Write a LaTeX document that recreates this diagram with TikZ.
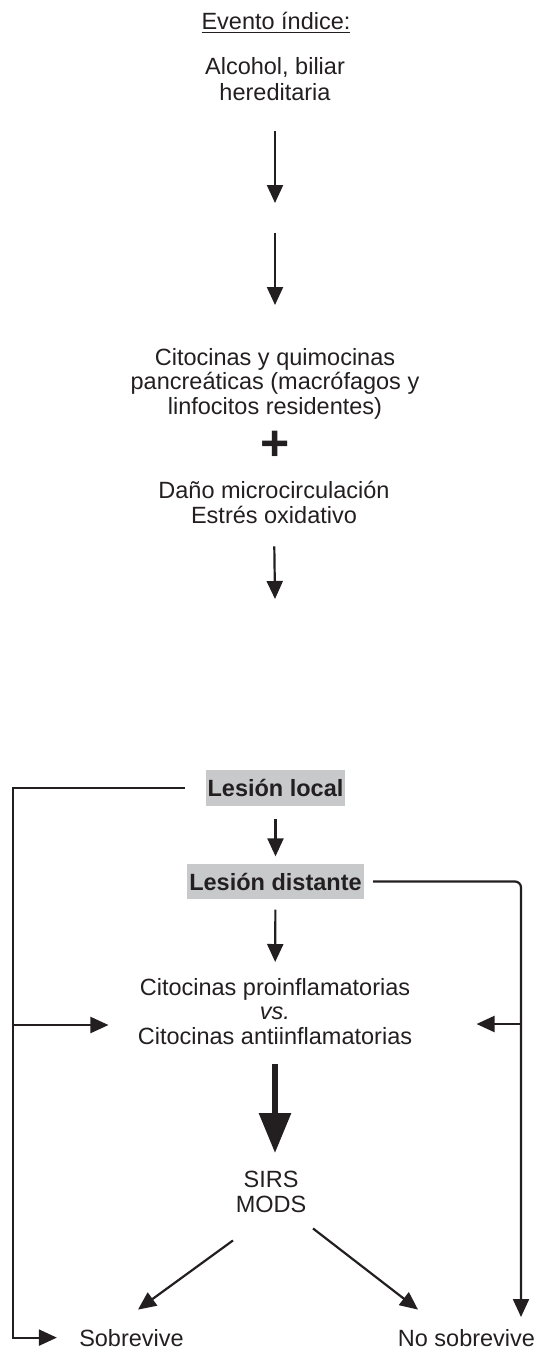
\documentclass[tikz,border=0pt]{standalone}
\usepackage{fontspec}
\setmainfont{Liberation Sans}
\usepackage{tikz}
\usetikzlibrary{arrows.meta,positioning,calc}
\definecolor{lesiongray}{HTML}{C8C9CB}
\definecolor{inkblack}{HTML}{231F20}

\begin{document}
\begin{tikzpicture}[x=0.5pt,y=-0.5pt,
  txt/.style={inner sep=0pt,align=center,text=inkblack,
              font=\fontsize{11.75}{12.25}\selectfont},
  lesion/.style={fill=lesiongray,inner xsep=1pt,inner ysep=0pt,
              minimum height=17.75pt,text=inkblack,
              font=\fontsize{11.75}{12.25}\selectfont\bfseries},
  arr/.style={-{Triangle[length=9pt,width=8pt]},line width=1.1pt,inkblack},
  big/.style={-{Triangle[length=20pt,width=15.5pt]},line width=3pt,inkblack}]
  \useasboundingbox (0,0) rectangle (538,1350);

  % upper part
  \node[txt,anchor=base] (evento) at (276,29) {\underline{Evento índice:}};
  \node[txt,anchor=north,font=\fontsize{11.75}{13}\selectfont] (causa) at (275,57)
       {Alcohol, biliar\\hereditaria};
  \coordinate (gap1) at (275,203);
  \coordinate (gap2) at (275,233);
  \node[txt,anchor=north] (citoq) at (275,348)
       {Citocinas y quimocinas\\pancreáticas (macrófagos y\\linfocitos residentes)};
  \node[txt,font=\fontsize{25}{25}\selectfont\bfseries] (mas) at (275,446) {+};
  \node[txt,anchor=north] (dano) at (274,481)
       {Daño microcirculación\\Estrés oxidativo};
  \coordinate (gap3) at (275,599);
  \draw[arr,shorten <=15pt] (causa.south) -- (gap1);
  \draw[arr,shorten >=21.5pt] (gap2) -- (citoq.north);
  \draw[arr,shorten <=11.25pt] (dano.south) -- (gap3);

  % lower part
  \node[lesion] (local) at (275.5,788) {Lesión local};
  \node[lesion] (distante) at (275.5,881.5) {Lesión distante};
  \node[txt,anchor=north] (cito) at (275,978)
       {Citocinas proinflamatorias\\\textit{vs.}\\Citocinas antiinflamatorias};
  \node[txt,anchor=north] (sirs) at (271,1171) {SIRS\\MODS};
  \node[txt,anchor=base] (sobre) at (131.5,1346) {Sobrevive};
  \node[txt,anchor=base] (nosobre) at (466.5,1346) {No sobrevive};
  \coordinate (lcol) at (13,1025);
  \coordinate (rcol) at (521,1024);
  \coordinate (rfin) at (521,1317);

  \draw[arr,shorten <=6.5pt,shorten >=3.5pt] (local) -- (distante);
  \draw[arr,shorten <=5pt,shorten >=8pt] (distante) -- (cito);
  \draw[big,shorten <=9.5pt,shorten >=9pt] (cito.south) -- (cito.south |- sirs.north);
  \draw[arr] ([xshift=-19pt,yshift=-13.75pt]sirs.south) --
       ([xshift=3.25pt,yshift=9.5pt]sobre.north);
  \draw[arr] ([xshift=21pt,yshift=-7.75pt]sirs.south) --
       ([xshift=-24.25pt,yshift=9.5pt]nosobre.north);

  % feedback lines
  \draw[arr,shorten >=11pt] ([xshift=-10pt]local.west) -| (lcol) |- (sobre.west);
  \draw[arr,shorten >=14.5pt] (lcol) -- (lcol -| cito.west);
  \draw[arr,rounded corners=3pt] ([xshift=4.5pt]distante.east) -| (rcol) -- (rfin);
  \draw[arr,shorten >=32pt] (rcol) -- (rcol -| cito.east);
\end{tikzpicture}
\end{document}
